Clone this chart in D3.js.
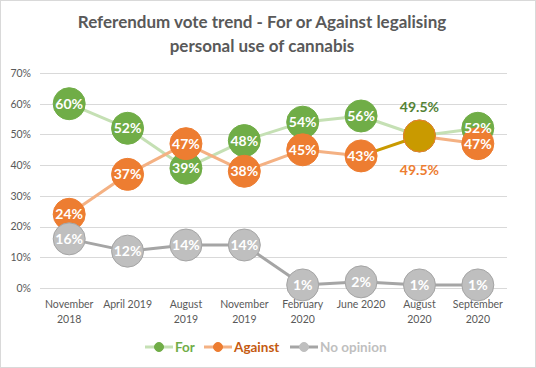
<!DOCTYPE html>
<html><head><meta charset="utf-8">
<script src="https://cdn.jsdelivr.net/npm/d3@7"></script>
<style>
html,body{margin:0;padding:0;background:#fff;}
svg{display:block;font-family:Lato,"Open Sans",sans-serif;}
</style></head>
<body><svg id="c" width="536" height="368"></svg>
<script>
const categories = [["November","2018"],["April 2019"],["August","2019"],["November","2019"],["February","2020"],["June 2020"],["August","2020"],["September","2020"]];
const forValues = [60,52,39,48,54,56,49.5,52];
const againstValues = [24,37,47,38,45,43,49.5,47];
const noOpinionValues = [16,12,14,14,1,2,1,1];
const yTicks = [0,10,20,30,40,50,60,70];
const seriesNames = ["For","Against","No opinion"];
const title = ["Referendum vote trend - For or Against legalising","personal use of cannabis"];

const svg = d3.select("#c");
svg.append("rect").attr("x",0.5).attr("y",0.5).attr("width",535).attr("height",367)
  .attr("fill","#fff").attr("stroke","#D9D9D9");

svg.append("text").attr("x",262).attr("y",28).attr("text-anchor","middle")
  .attr("font-size",17).attr("font-weight","bold").attr("fill","#595959")
  .selectAll("tspan").data(title).join("tspan").attr("x",262).attr("dy",(d,i)=>i?23.5:0).text(d=>d);

const idx = categories.map((d,i)=>i);
const x = d3.scaleBand().domain(idx).range([40,507]);
const cx = i => x(i)+x.bandwidth()/2;
const y = d3.scaleLinear().domain([0,70]).range([288,73]);

// grid
svg.append("g").selectAll("line").data(yTicks).join("line")
  .attr("x1",40).attr("x2",507).attr("y1",d=>Math.round(y(d))+0.5).attr("y2",d=>Math.round(y(d))+0.5)
  .attr("stroke","#D9D9D9").attr("stroke-width",1);

const yAxis = d3.axisLeft(y).tickValues(yTicks).tickFormat(d=>d+"%").tickSize(0).tickPadding(0);
const ya = svg.append("g").attr("transform","translate(31,0)").call(yAxis);
ya.select(".domain").remove();
ya.selectAll("text").attr("font-size",10.5).attr("fill","#595959").attr("font-family","Lato,'Open Sans',sans-serif");

const xa = svg.append("g").attr("transform","translate(0,288)").call(d3.axisBottom(x).tickSize(0).tickFormat(""));
xa.select(".domain").remove();
xa.selectAll(".tick").each(function(i){
  const t = d3.select(this).select("text").attr("font-size",10.5).attr("fill","#595959")
    .attr("font-family","Lato,'Open Sans',sans-serif").attr("y",0).attr("dy",0);
  categories[i].forEach((s,k)=>t.append("tspan").attr("x",0).attr("y",20+k*15).text(s));
});

const tie = idx.filter(i=>forValues[i]===againstValues[i]);
const series = [
  {vals:forValues,line:"#C5E0B4",fill:"#70AD47",stroke:"#70AD47",special:false},
  {vals:againstValues,line:"#F4B183",fill:"#ED7D31",stroke:"#ED7D31",special:true},
  {vals:noOpinionValues,line:"#A5A5A5",fill:"#BFBFBF",stroke:"#A5A5A5",special:false,noTie:true}
];
series.forEach(s=>{
  const g = svg.append("g");
  for(let i=0;i<s.vals.length-1;i++){
    const col = s.special && tie.includes(i+1) ? "#C99A00" : s.line;
    g.append("path").attr("d",d3.line().x(d=>cx(d)).y(d=>y(s.vals[d]))([i,i+1]))
      .attr("fill","none").attr("stroke",col).attr("stroke-width",3);
  }
  g.selectAll("circle").data(idx).join("circle").attr("cx",cx).attr("cy",i=>y(s.vals[i])).attr("r",16)
    .attr("fill",i=>s.special && tie.includes(i)?"#C99A00":s.fill)
    .attr("stroke",i=>s.special && tie.includes(i)?"#ED7D31":s.stroke).attr("stroke-width",1);
});
series.forEach(s=>{
  svg.append("g").selectAll("text").data(idx.filter(i=>s.noTie||!tie.includes(i))).join("text")
    .attr("x",cx).attr("y",i=>y(s.vals[i])).attr("text-anchor","middle").attr("dy","0.36em")
    .attr("font-size",14).attr("font-weight","bold").attr("fill","#fff").text(i=>s.vals[i]+"%");
});

tie.forEach(i=>{
  svg.append("text").attr("x",cx(i)).attr("y",y(forValues[i])-29).attr("text-anchor","middle").attr("dy","0.36em")
    .attr("font-size",14).attr("font-weight","bold").attr("fill","#548235").text(forValues[i]+"%");
  svg.append("text").attr("x",cx(i)).attr("y",y(againstValues[i])+34).attr("text-anchor","middle").attr("dy","0.36em")
    .attr("font-size",14).attr("font-weight","bold").attr("fill","#ED7D31").text(againstValues[i]+"%");
});

// legend
const legend = [
  {name:seriesNames[0],line:"#C5E0B4",dot:"#70AD47",text:"#70AD47",x:145},
  {name:seriesNames[1],line:"#F4B183",dot:"#ED7D31",text:"#C55A11",x:204},
  {name:seriesNames[2],line:"#A5A5A5",dot:"#BFBFBF",text:"#BFBFBF",x:290}
];
const lg = svg.append("g").attr("transform","translate(0,347)");
legend.forEach(d=>{
  lg.append("line").attr("x1",d.x).attr("x2",d.x+28).attr("stroke",d.line).attr("stroke-width",3);
  lg.append("circle").attr("cx",d.x+14).attr("r",4.5).attr("fill",d.dot).attr("stroke",d.dot);
  lg.append("text").attr("x",d.x+30).attr("dy","0.36em").attr("font-size",13.5).attr("font-weight","bold")
    .attr("fill",d.text).text(d.name);
});
</script></body></html>
